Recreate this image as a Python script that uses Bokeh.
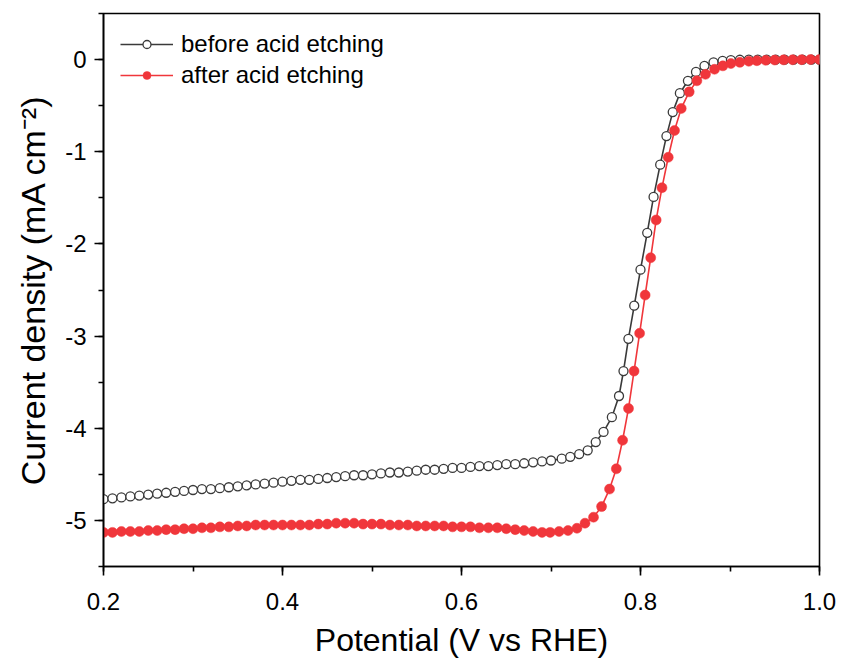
from bokeh.plotting import figure
from bokeh.models import SingleIntervalTicker, NumeralTickFormatter, Range1d
from bokeh.embed import file_html
from bokeh.resources import INLINE

# ---- data ----
before_x = [0.20, 0.21, 0.22, 0.23, 0.24, 0.25, 0.26, 0.27, 0.28, 0.29,
            0.30, 0.31, 0.32, 0.33, 0.34, 0.35, 0.36, 0.37, 0.38, 0.39,
            0.40, 0.41, 0.42, 0.43, 0.44, 0.45, 0.46, 0.47, 0.48, 0.49,
            0.50, 0.51, 0.52, 0.53, 0.54, 0.55, 0.56, 0.57, 0.58, 0.59,
            0.60, 0.61, 0.62, 0.63, 0.64, 0.65, 0.66, 0.67, 0.68, 0.69,
            0.70, 0.712, 0.7215, 0.7315, 0.741, 0.750, 0.7587, 0.768, 0.776, 0.781,
            0.7865, 0.793, 0.800, 0.8075, 0.8146, 0.822, 0.829, 0.836, 0.844, 0.853,
            0.862, 0.8715, 0.8816, 0.8917, 0.901, 0.911, 0.921, 0.931, 0.941, 0.951,
            0.961, 0.971, 0.981, 0.991, 1.0]
before_y = [-4.77, -4.76, -4.75, -4.74, -4.73, -4.72, -4.71, -4.70, -4.69, -4.68,
            -4.67, -4.66, -4.66, -4.65, -4.64, -4.63, -4.62, -4.61, -4.60, -4.59,
            -4.58, -4.57, -4.56, -4.56, -4.55, -4.54, -4.53, -4.52, -4.51, -4.51,
            -4.50, -4.49, -4.48, -4.48, -4.47, -4.46, -4.45, -4.45, -4.44, -4.43,
            -4.43, -4.42, -4.41, -4.41, -4.40, -4.39, -4.39, -4.38, -4.37, -4.36,
            -4.35, -4.33, -4.31, -4.28, -4.24, -4.15, -4.04, -3.88, -3.65, -3.38,
            -3.03, -2.67, -2.28, -1.88, -1.49, -1.14, -0.83, -0.57, -0.365, -0.23,
            -0.134, -0.068, -0.03, -0.015, -0.005, -0.002, -0.001, 0.0, 0.0, 0.0,
            0.0, 0.0, 0.0, 0.0, 0.0]

after_x = [0.20, 0.21, 0.22, 0.23, 0.24, 0.25, 0.26, 0.27, 0.28, 0.29,
           0.30, 0.31, 0.32, 0.33, 0.34, 0.35, 0.36, 0.37, 0.38, 0.39,
           0.40, 0.41, 0.42, 0.43, 0.44, 0.45, 0.46, 0.47, 0.48, 0.49,
           0.50, 0.51, 0.52, 0.53, 0.54, 0.55, 0.56, 0.57, 0.58, 0.59,
           0.60, 0.61, 0.62, 0.63, 0.64, 0.65, 0.66, 0.67, 0.68, 0.69,
           0.699, 0.709, 0.719, 0.729, 0.738, 0.7475, 0.7565, 0.7654, 0.773, 0.780,
           0.7866, 0.7928, 0.799, 0.8052, 0.8114, 0.8175, 0.824, 0.831, 0.838, 0.8455,
           0.8544, 0.863, 0.8726, 0.8827, 0.892, 0.901, 0.911, 0.921, 0.930, 0.940,
           0.950, 0.960, 0.970, 0.980, 0.990, 1.0]
after_y = [-5.13, -5.13, -5.12, -5.12, -5.12, -5.11, -5.11, -5.10, -5.10, -5.09,
           -5.09, -5.08, -5.08, -5.07, -5.07, -5.06, -5.06, -5.05, -5.05, -5.05,
           -5.05, -5.05, -5.05, -5.05, -5.04, -5.04, -5.03, -5.03, -5.03, -5.04,
           -5.04, -5.04, -5.05, -5.05, -5.05, -5.06, -5.06, -5.06, -5.06, -5.07,
           -5.07, -5.07, -5.08, -5.08, -5.08, -5.09, -5.10, -5.11, -5.12, -5.13,
           -5.13, -5.12, -5.11, -5.085, -5.03, -4.965, -4.85, -4.66, -4.44, -4.13,
           -3.785, -3.38, -2.97, -2.555, -2.15, -1.74, -1.39, -1.06, -0.77, -0.53,
           -0.35, -0.23, -0.16, -0.105, -0.068, -0.043, -0.03, -0.018, -0.012, -0.008,
           -0.005, -0.003, -0.002, -0.001, 0.0, 0.0]

labels = ["before acid etching", "after acid etching"]
x_title = "Potential (V vs RHE)"
y_title = "Current density (mA cm\u207b\u00b2)"

FONT = "Liberation Sans"
BLACK_C = "#3a3a3a"
RED_C = "#f0363b"

p = figure(width=844, height=665, output_backend="svg", toolbar_location=None,
           frame_width=716, frame_height=553,
           x_range=Range1d(0.2, 1.0), y_range=Range1d(-5.5, 0.5))
p.min_border_left = 103
p.min_border_right = 25
p.min_border_top = 13
p.min_border_bottom = 99

p.grid.visible = False
p.outline_line_color = "black"
p.outline_line_width = 1.6
p.outline_line_alpha = 1.0

p.xaxis.ticker = SingleIntervalTicker(interval=0.2, num_minor_ticks=2)
p.yaxis.ticker = SingleIntervalTicker(interval=1, num_minor_ticks=2)
p.xaxis.formatter = NumeralTickFormatter(format="0.0")
p.yaxis.formatter = NumeralTickFormatter(format="0")

for ax in (p.xaxis[0], p.yaxis[0]):
    ax.axis_line_width = 1.6
    ax.axis_line_color = "black"
    ax.major_tick_line_width = 1.6
    ax.minor_tick_line_width = 1.6
    ax.major_tick_line_color = "black"
    ax.minor_tick_line_color = "black"
    ax.major_tick_out = 9
    ax.major_tick_in = 0
    ax.minor_tick_out = 5
    ax.minor_tick_in = 0
    ax.major_label_text_font = FONT
    ax.major_label_text_font_size = "24px"
    ax.major_label_text_color = "black"
    ax.axis_label_text_font = FONT
    ax.axis_label_text_font_style = "normal"
    ax.axis_label_text_color = "black"

p.xaxis.axis_label_text_font_size = "32px"
p.yaxis.axis_label_text_font_size = "34px"
p.xaxis.axis_label = x_title
p.yaxis.axis_label = y_title
p.xaxis.major_label_standoff = 17
p.xaxis.axis_label_standoff = 9
p.yaxis.major_label_standoff = 8
p.yaxis.axis_label_standoff = 10

# before acid etching
p.line(before_x, before_y, line_color=BLACK_C, line_width=1.6, legend_label=labels[0])
p.scatter(before_x, before_y, marker="circle", size=9, fill_color="white",
          line_color=BLACK_C, line_width=1.3, legend_label=labels[0])

# after acid etching
p.line(after_x, after_y, line_color=RED_C, line_width=1.6, legend_label=labels[1])
p.scatter(after_x, after_y, marker="circle", size=10, fill_color=RED_C,
          line_color=RED_C, line_width=0.5, legend_label=labels[1])

lg = p.legend[0]
lg.location = "top_left"
lg.margin = 0
lg.padding = 17
lg.border_line_alpha = 0
lg.background_fill_alpha = 0
lg.glyph_width = 53
lg.glyph_height = 20
lg.label_standoff = 8
lg.spacing = 3
lg.label_text_font = FONT
lg.label_text_font_size = "24px"
lg.label_text_color = "black"

open("out.html", "w").write(file_html(p, INLINE))
